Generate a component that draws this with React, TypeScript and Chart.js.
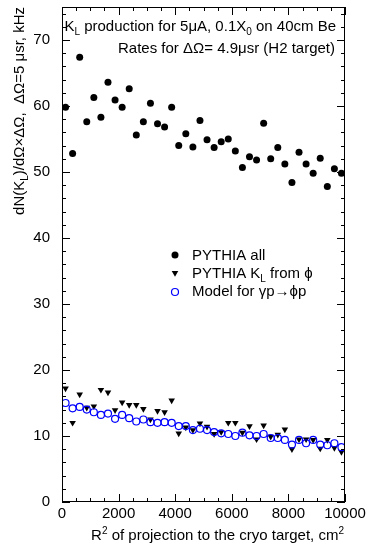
import React, { useEffect, useRef } from "react";
import { Chart, registerables } from "chart.js";

Chart.register(...registerables);

// R^2 bin centres, cm^2
const binCenters = [
  125, 375, 625, 875, 1125, 1375, 1625, 1875, 2125, 2375,
  2625, 2875, 3125, 3375, 3625, 3875, 4125, 4375, 4625, 4875,
  5125, 5375, 5625, 5875, 6125, 6375, 6625, 6875, 7125, 7375,
  7625, 7875, 8125, 8375, 8625, 8875, 9125, 9375, 9625, 9875,
];

// PYTHIA all (kHz)
const pythiaAll = [
  59.8, 52.8, 67.4, 57.6, 61.3, 58.3, 63.6, 60.9, 59.8, 62.6,
  55.6, 57.6, 60.4, 57.3, 56.8, 59.8, 54.0, 55.8, 53.8, 57.8,
  54.9, 53.7, 54.6, 55.0, 53.2, 50.7, 52.3, 51.8, 57.4, 52.0,
  53.7, 51.2, 48.4, 53.0, 51.2, 49.8, 52.1, 47.8, 50.5, 49.8,
];

// PYTHIA K_L from phi (kHz)
const pythiaKLfromPhi = [
  17.2, 12.0, 16.3, 14.3, 14.5, 17.0, 16.6, 13.9, 15.1, 14.7,
  14.7, 14.1, 12.5, 13.8, 13.6, 15.4, 10.4, 11.3, 10.9, 11.9,
  11.4, 10.3, 10.6, 12.0, 12.0, 10.5, 11.5, 9.5, 11.6, 9.9,
  10.2, 11.0, 8.0, 9.5, 9.5, 9.4, 8.1, 9.4, 8.2, 7.6,
];

// Model for gamma p -> phi p (kHz)
const modelPhiP = [
  15.0, 14.2, 14.4, 14.0, 13.6, 13.2, 13.4, 12.6, 13.2, 12.7,
  12.2, 12.5, 12.1, 12.0, 12.1, 12.0, 11.5, 11.5, 10.9, 11.1,
  10.9, 10.6, 10.4, 10.3, 10.0, 10.5, 10.1, 10.0, 10.3, 9.7,
  9.7, 9.4, 8.7, 9.4, 8.9, 9.4, 8.7, 8.6, 8.9, 8.3,
];

const xMin = 0;
const xMax = 10000;
const xMajor = 2000;
const xMinor = 500;
const yMin = 0;
const yMax = 75;
const yMajor = 10;
const yMinor = 2;

const FONT = "Liberation Sans, Arial, Helvetica, sans-serif";

type Seg = { t: string; s?: "sub" | "sup" };

function segWidth(ctx: CanvasRenderingContext2D, segs: Seg[], size: number) {
  let w = 0;
  for (const sg of segs) {
    ctx.font = `${sg.s ? Math.round(size * 0.68) : size}px ${FONT}`;
    w += ctx.measureText(sg.t).width;
  }
  return w;
}

function drawSegs(
  ctx: CanvasRenderingContext2D,
  segs: Seg[],
  x: number,
  y: number,
  size: number,
  align: "left" | "right" = "left"
) {
  let cx = align === "right" ? x - segWidth(ctx, segs, size) : x;
  ctx.textAlign = "left";
  ctx.textBaseline = "alphabetic";
  for (const sg of segs) {
    const sz = sg.s ? Math.round(size * 0.68) : size;
    ctx.font = `${sz}px ${FONT}`;
    const dy = sg.s === "sub" ? size * 0.28 : sg.s === "sup" ? -size * 0.42 : 0;
    ctx.fillText(sg.t, cx, y + dy);
    cx += ctx.measureText(sg.t).width;
  }
}

function drawMarker(ctx: CanvasRenderingContext2D, kind: string, x: number, y: number) {
  ctx.save();
  if (kind === "dot") {
    ctx.fillStyle = "#000";
    ctx.beginPath();
    ctx.arc(x, y, 3.5, 0, Math.PI * 2);
    ctx.fill();
  } else if (kind === "tri") {
    ctx.fillStyle = "#000";
    const r = 3.8;
    ctx.beginPath();
    ctx.moveTo(x, y + r);
    ctx.lineTo(x - r * 0.866, y - r * 0.5);
    ctx.lineTo(x + r * 0.866, y - r * 0.5);
    ctx.closePath();
    ctx.fill();
  } else {
    ctx.strokeStyle = "#0000ff";
    ctx.lineWidth = 1.2;
    ctx.beginPath();
    ctx.arc(x, y, 3.5, 0, Math.PI * 2);
    ctx.stroke();
  }
  ctx.restore();
}

const rootPlugin = {
  id: "rootFrame",
  afterDraw(chart: any) {
    const { ctx, chartArea: a, scales } = chart;
    const xs = scales.x;
    const ys = scales.y;
    ctx.save();
    ctx.strokeStyle = "#000";
    ctx.lineWidth = 1;
    ctx.strokeRect(a.left + 0.5, a.top + 0.5, a.right - a.left - 1, a.bottom - a.top - 1);
    ctx.beginPath();
    for (let v = xMin; v <= xMax; v += xMinor) {
      const px = Math.round(xs.getPixelForValue(v)) + 0.5;
      const len = v % xMajor === 0 ? 8 : 4;
      ctx.moveTo(px, a.bottom);
      ctx.lineTo(px, a.bottom - len);
      ctx.moveTo(px, a.top);
      ctx.lineTo(px, a.top + len);
    }
    for (let v = yMin; v <= yMax; v += yMinor) {
      const py = Math.round(ys.getPixelForValue(v)) + 0.5;
      const len = v % yMajor === 0 ? 8 : 4;
      ctx.moveTo(a.left, py);
      ctx.lineTo(a.left + len, py);
      ctx.moveTo(a.right, py);
      ctx.lineTo(a.right - len, py);
    }
    ctx.stroke();

    ctx.fillStyle = "#000";
    // annotation text
    drawSegs(
      ctx,
      [{ t: "K" }, { t: "L", s: "sub" }, { t: " production for 5\u03bcA, 0.1X" }, { t: "0", s: "sub" }, { t: " on 40cm Be" }],
      a.right - 9,
      31,
      15,
      "right"
    );
    drawSegs(ctx, [{ t: "Rates for \u0394\u03a9= 4.9\u03bcsr (H2 target)" }], a.right - 10, 53, 15, "right");

    // legend
    const lx = 175;
    const tx = 192;
    drawMarker(ctx, "dot", lx, 255);
    drawSegs(ctx, [{ t: "PYTHIA all" }], tx, 260, 15);
    drawMarker(ctx, "tri", lx, 273);
    drawSegs(ctx, [{ t: "PYTHIA K" }, { t: "L", s: "sub" }, { t: " from \u03d5" }], tx, 278, 15);
    drawMarker(ctx, "circ", lx, 292);
    drawSegs(ctx, [{ t: "Model for \u03b3p\u2192\u03d5p" }], tx, 296, 15);

    // x title
    drawSegs(
      ctx,
      [{ t: "R" }, { t: "2", s: "sup" }, { t: " of projection to the cryo target, cm" }, { t: "2", s: "sup" }],
      a.right - 1,
      540,
      15,
      "right"
    );

    // y title (rotated, top aligned)
    ctx.save();
    ctx.translate(24, 7);
    ctx.rotate(-Math.PI / 2);
    drawSegs(
      ctx,
      [{ t: "dN(K" }, { t: "L", s: "sub" }, { t: ")/d\u03a9\u00d7\u0394\u03a9,  \u0394\u03a9=5 \u03bcsr, kHz" }],
      0,
      0,
      15,
      "right"
    );
    ctx.restore();
    ctx.restore();
  },
};

export default function App() {
  const ref = useRef<HTMLCanvasElement | null>(null);
  useEffect(() => {
    if (!ref.current) return;
    const toPts = (ys: number[]) => ys.map((v, i) => ({ x: binCenters[i], y: v }));
    const chart = new Chart(ref.current, {
      type: "scatter",
      data: {
        datasets: [
          {
            label: "Model for \u03b3p\u2192\u03d5p",
            data: toPts(modelPhiP),
            pointStyle: "circle",
            pointRadius: 3.5,
            backgroundColor: "rgba(0,0,0,0)",
            borderColor: "#0000ff",
            borderWidth: 1.2,
            order: 0,
          },
          {
            label: "PYTHIA K_L from \u03d5",
            data: toPts(pythiaKLfromPhi),
            pointStyle: "triangle",
            pointRotation: 180,
            pointRadius: 3.8,
            backgroundColor: "#000",
            borderColor: "#000",
            borderWidth: 0,
            order: 1,
          },
          {
            label: "PYTHIA all",
            data: toPts(pythiaAll),
            pointStyle: "circle",
            pointRadius: 3.5,
            backgroundColor: "#000",
            borderColor: "#000",
            borderWidth: 0,
            order: 2,
          },
        ],
      },
      options: {
        responsive: false,
        animation: false,
        devicePixelRatio: 1,
        layout: { padding: { left: 0, right: 23, top: 7, bottom: 0 } },
        plugins: { legend: { display: false }, tooltip: { enabled: false } },
        scales: {
          x: {
            type: "linear",
            min: xMin,
            max: xMax,
            grid: { display: false, drawTicks: false },
            border: { display: false },
            ticks: {
              stepSize: xMajor,
              color: "#000",
              font: { family: FONT, size: 15 },
              padding: 3,
              maxRotation: 0,
              autoSkip: false,
              callback: (v: any) => String(v),
            },
            afterFit: (s: any) => {
              s.height = 45;
              s.paddingLeft = 0;
              s.paddingRight = 0;
            },
          },
          y: {
            type: "linear",
            min: yMin,
            max: yMax,
            grid: { display: false, drawTicks: false },
            border: { display: false },
            afterBuildTicks: (s: any) => {
              s.ticks = s.ticks.filter((t: any) => t.value % yMajor === 0);
            },
            ticks: {
              stepSize: yMajor,
              color: "#000",
              font: { family: FONT, size: 15 },
              padding: 12,
              autoSkip: false,
              callback: (v: any) => String(v),
            },
            afterFit: (s: any) => {
              s.width = 62;
              s.paddingTop = 0;
              s.paddingBottom = 0;
            },
          },
        },
      },
      plugins: [rootPlugin],
    } as any);
    return () => chart.destroy();
  }, []);
  return (
    <div style={{ position: "absolute", left: 0, top: 0, width: 368, height: 547, background: "#fff" }}>
      <canvas ref={ref} width={368} height={547} style={{ display: "block" }} />
    </div>
  );
}
